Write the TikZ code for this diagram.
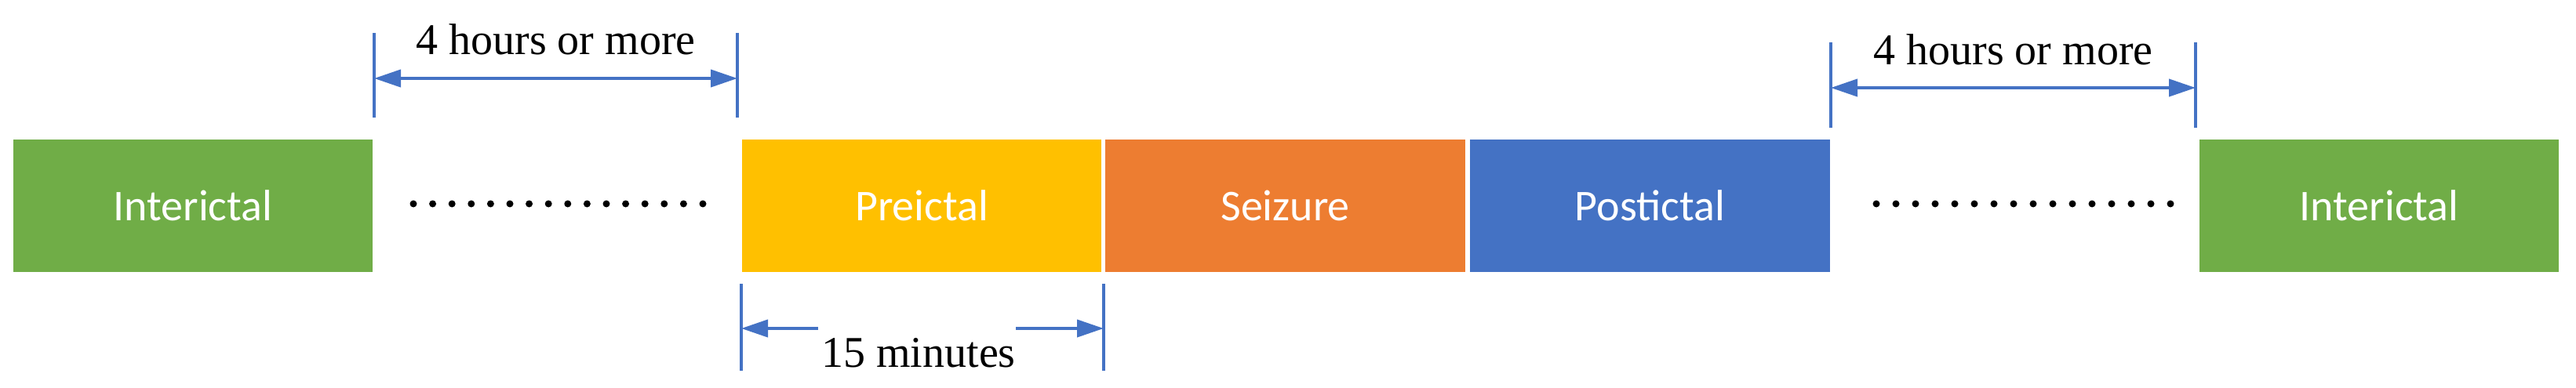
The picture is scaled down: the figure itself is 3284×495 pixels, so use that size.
\documentclass[tikz,border=0pt]{standalone}
\usepackage{fontspec}
\setmainfont{Liberation Serif}
\newfontfamily\boxfont{Carlito}
\usetikzlibrary{arrows.meta}
\definecolor{cgreen}{HTML}{70AD47}
\definecolor{cyellow}{HTML}{FFC000}
\definecolor{corange}{HTML}{ED7D31}
\definecolor{cblue}{HTML}{4472C4}
\begin{document}
\begin{tikzpicture}[x=1pt,y=-1pt,
  phase/.style={draw=white, line width=1.5pt, minimum width=460pt, minimum height=171pt,
    inner sep=0pt, outer sep=0pt, text=white, font=\boxfont\fontsize{56}{60}\selectfont, anchor=north west},
  tickline/.style={draw=cblue, line width=3.5pt},
  dimarrow/.style={draw=cblue, line width=4pt, {Triangle[length=34pt,width=22pt]}-{Triangle[length=34pt,width=22pt]}},
  halfarrow/.style={draw=cblue, line width=4pt, -{Triangle[length=34pt,width=22pt]}},
  dimlabel/.style={font=\fontsize{56}{60}\selectfont, inner sep=0pt, anchor=base, text=black},
  dotmark/.style={circle, fill=black, inner sep=0pt, minimum size=9pt}]
\useasboundingbox (0,0) rectangle (3284,495);

% phase boxes
\node[phase, fill=cgreen]  (int1) at (16,177)   {Interictal};
\node[phase, fill=cyellow] (pre)  at (945,177)  {Preictal};
\node[phase, fill=corange, minimum width=461pt] (seiz) at (1408,177) {Seizure};
\node[phase, fill=cblue, minimum width=461pt]   (post) at (1873,177) {Postictal};
\node[phase, fill=cgreen]  (int2) at (2803,177) {Interictal};

% dotted gaps
\foreach \i in {0,...,15} {
  \node[dotmark] (dl\i) at ({527+\i*24.6},260) {};
  \node[dotmark] (dr\i) at ({2392+\i*25.0},260) {};
}

% top-left dimension
\coordinate (a1t) at (477,42);  \coordinate (a1b) at (477,150);
\coordinate (b1t) at (940,42);  \coordinate (b1b) at (940,150);
\coordinate (a1m) at (477,100); \coordinate (b1m) at (940,100);
\draw[tickline] (a1t) -- (a1b);
\draw[tickline] (b1t) -- (b1b);
\draw[dimarrow] (a1m) -- (b1m);
\node[dimlabel] (lab1) at (708.5,70) {4 hours or more};

% top-right dimension
\coordinate (a2t) at (2334,54);  \coordinate (a2b) at (2334,163);
\coordinate (b2t) at (2799,54);  \coordinate (b2b) at (2799,163);
\coordinate (a2m) at (2334,112); \coordinate (b2m) at (2799,112);
\draw[tickline] (a2t) -- (a2b);
\draw[tickline] (b2t) -- (b2b);
\draw[dimarrow] (a2m) -- (b2m);
\node[dimlabel] (lab2) at (2566.5,82) {4 hours or more};

% bottom dimension
\coordinate (a3t) at (945,362);  \coordinate (a3b) at (945,473);
\coordinate (b3t) at (1407,362); \coordinate (b3b) at (1407,473);
\coordinate (a3m) at (945,419);  \coordinate (b3m) at (1407,419);
\coordinate (g3l) at (1043,419); \coordinate (g3r) at (1295,419);
\draw[tickline] (a3t) -- (a3b);
\draw[tickline] (b3t) -- (b3b);
\draw[halfarrow] (g3l) -- (a3m);
\draw[halfarrow] (g3r) -- (b3m);
\node[dimlabel] (lab3) at (1171,468) {15 minutes};
\end{tikzpicture}
\end{document}
